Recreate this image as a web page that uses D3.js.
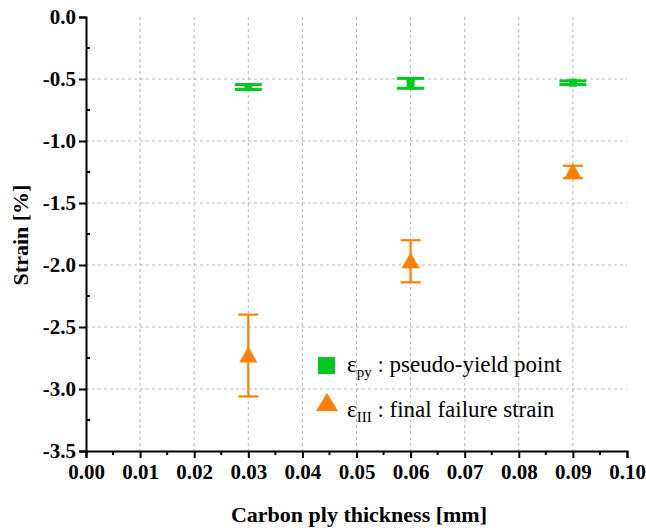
<!DOCTYPE html>
<html>
<head>
<meta charset="utf-8">
<script src="https://cdn.jsdelivr.net/npm/d3@7"></script>
</head>
<body style="margin:0">
<script>
// thickness of the carbon ply [mm]
var thickness = [0.03, 0.06, 0.09];
// pseudo-yield strain (mean, +/- error)
var pyMean = [-0.565, -0.535, -0.530];
var pyErr = [0.020, 0.040, 0.015];
// final failure strain
var failMean = [-2.73, -1.97, -1.25];
var failErr = [0.33, 0.17, 0.05];

var xTicks = [0.00, 0.01, 0.02, 0.03, 0.04, 0.05, 0.06, 0.07, 0.08, 0.09, 0.10];
var yTicks = [0.0, -0.5, -1.0, -1.5, -2.0, -2.5, -3.0, -3.5];

var fontName = "'Liberation Serif', 'Times New Roman'";

var svgWidth = 646, svgHeight = 530;
var margin = { top: 17, right: 19, bottom: 79, left: 86 };
var chartWidth = svgWidth - margin.left - margin.right;
var chartHeight = svgHeight - margin.top - margin.bottom;

var svg = d3.select("body").append("svg")
  .attr("width", svgWidth)
  .attr("height", svgHeight);

var chartGroup = svg.append("g")
  .attr("transform", `translate(${margin.left}, ${margin.top})`);

var xScale = d3.scaleLinear().domain([0, 0.10]).range([0, chartWidth]);
var yScale = d3.scaleLinear().domain([-3.5, 0]).range([chartHeight, 0]);

// dashed grid
chartGroup.append("g").selectAll("line")
  .data(xTicks.slice(1, -1))
  .enter().append("line")
  .attr("x1", d => xScale(d)).attr("x2", d => xScale(d))
  .attr("y1", 0).attr("y2", chartHeight)
  .attr("stroke", "#b5b5b5").attr("stroke-dasharray", "3,3");

chartGroup.append("g").selectAll("line")
  .data(yTicks.slice(1, -1))
  .enter().append("line")
  .attr("y1", d => yScale(d)).attr("y2", d => yScale(d))
  .attr("x1", 0).attr("x2", chartWidth)
  .attr("stroke", "#b5b5b5").attr("stroke-dasharray", "3,3");

// minor ticks
var xMinor = d3.range(0.005, 0.10, 0.01);
chartGroup.append("g").selectAll("line")
  .data(xMinor).enter().append("line")
  .attr("x1", d => xScale(d)).attr("x2", d => xScale(d))
  .attr("y1", chartHeight).attr("y2", chartHeight + 4)
  .attr("stroke", "#000").attr("stroke-width", 2);
var yMinor = d3.range(-0.25, -3.5, -0.5);
chartGroup.append("g").selectAll("line")
  .data(yMinor).enter().append("line")
  .attr("y1", d => yScale(d)).attr("y2", d => yScale(d))
  .attr("x1", 0).attr("x2", 4)
  .attr("stroke", "#000").attr("stroke-width", 2);

// axes
var xAxis = d3.axisBottom(xScale).tickValues(xTicks).tickFormat(d3.format(".2f"))
  .tickSizeOuter(0).tickSize(7).tickPadding(6);
var yAxis = d3.axisLeft(yScale).tickValues(yTicks).tickFormat(d3.format(".1f"))
  .tickSizeOuter(0).tickSize(7).tickPadding(3);

var gx = chartGroup.append("g")
  .attr("transform", `translate(0, ${chartHeight})`)
  .call(xAxis);
var gy = chartGroup.append("g").call(yAxis);

[gx, gy].forEach(function(g) {
  g.attr("font-family", null).attr("font-size", null);
  g.selectAll("path, line").attr("stroke", "#000").attr("stroke-width", 2);
  g.selectAll("text")
    .attr("fill", "#000")
    .attr("font-family", fontName)
    .attr("font-weight", "bold")
    .attr("font-size", 21);
});
gy.selectAll("text").text(d => d3.format(".1f")(d).replace("−", "-"));

// axis titles
svg.append("text")
  .attr("x", 359)
  .attr("y", 522)
  .attr("text-anchor", "middle")
  .attr("font-family", fontName)
  .attr("font-weight", "bold")
  .attr("font-size", 22)
  .text("Carbon ply thickness [mm]");

svg.append("text")
  .attr("transform", "translate(28, 235) rotate(-90)")
  .attr("text-anchor", "middle")
  .attr("font-family", fontName)
  .attr("font-weight", "bold")
  .attr("font-size", 22)
  .text("Strain [%]");

var green = "#00c81e";
var orange = "#ff7f00";

// error bars + markers
function drawSeries(mean, err, color, capW, sw, marker) {
  var g = chartGroup.append("g");
  thickness.forEach(function(t, i) {
    var cx = xScale(t);
    var top = yScale(mean[i] + err[i]);
    var bot = yScale(mean[i] - err[i]);
    g.append("line").attr("x1", cx).attr("x2", cx).attr("y1", top).attr("y2", bot)
      .attr("stroke", color).attr("stroke-width", sw);
    [top, bot].forEach(function(yy) {
      g.append("line").attr("x1", cx - capW / 2).attr("x2", cx + capW / 2)
        .attr("y1", yy).attr("y2", yy)
        .attr("stroke", color).attr("stroke-width", sw);
    });
    g.append("path")
      .attr("transform", `translate(${cx}, ${yScale(mean[i])})`)
      .attr("d", marker)
      .attr("fill", color);
  });
}

var squareSym = d3.symbol().type(d3.symbolSquare).size(64)();
var triSym = "M0,-9L9,7L-9,7Z";
drawSeries(pyMean, pyErr, green, 27, 3, squareSym);
drawSeries(failMean, failErr, orange, 20, 2.2, triSym);

// legend
var legend = svg.append("g").attr("transform", "translate(318, 357)");
legend.append("rect").attr("x", 0).attr("y", 0).attr("width", 17).attr("height", 17)
  .attr("fill", green);
var t1 = legend.append("text").attr("x", 29).attr("y", 15)
  .attr("font-family", fontName).attr("font-size", 23);
t1.append("tspan").text("ε");
t1.append("tspan").attr("dy", 5).attr("font-size", 15).text("py");
t1.append("tspan").attr("dy", -5).text(" : pseudo-yield point");

legend.append("path").attr("d", "M9,36L20,54L-2,54Z").attr("fill", orange);
var t2 = legend.append("text").attr("x", 29).attr("y", 60)
  .attr("font-family", fontName).attr("font-size", 23);
t2.append("tspan").text("ε");
t2.append("tspan").attr("dy", 5).attr("font-size", 15).text("III");
t2.append("tspan").attr("dy", -5).text(" : final failure strain");
</script>
</body>
</html>
